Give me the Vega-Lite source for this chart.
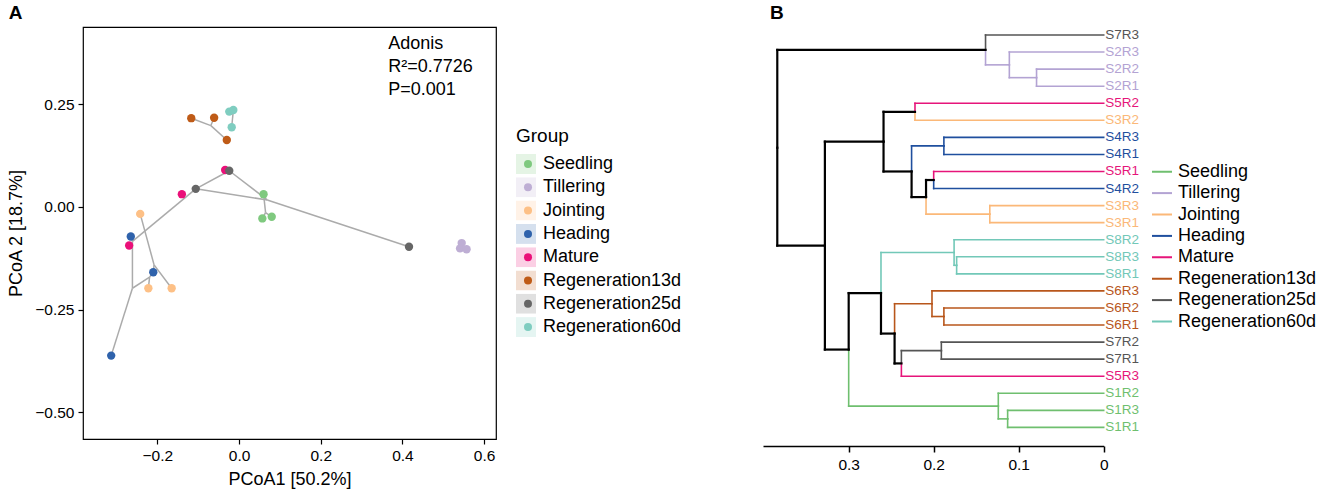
{
  "$schema": "https://vega.github.io/schema/vega-lite/v6.json",
  "padding": {"left": 7, "top": 3, "right": 5, "bottom": 5},
  "background": "white",
  "spacing": 80,
  "resolve": {"scale": {"color": "independent"}, "legend": {"color": "independent"}},
  "config": {
    "font": "Liberation Sans",
    "view": {"stroke": null},
    "axis": {"grid": false, "labelColor": "black", "titleColor": "black", "tickColor": "black", "domainColor": "black", "labelFont": "Liberation Sans", "titleFont": "Liberation Sans", "titleFontWeight": "normal"},
    "title": {"fontSize": 19, "fontWeight": "bold", "anchor": "start", "font": "Liberation Sans", "color": "black"},
    "legend": {"labelFont": "Liberation Sans", "titleFont": "Liberation Sans", "labelColor": "black", "titleColor": "black", "titleFontWeight": "normal"}
  },
  "datasets": {
    "points": [
      {"Group": "Seedling", "PC1": 0.060, "PC2": 0.031},
      {"Group": "Seedling", "PC1": 0.057, "PC2": -0.028},
      {"Group": "Seedling", "PC1": 0.080, "PC2": -0.024},
      {"Group": "Tillering", "PC1": 0.545, "PC2": -0.088},
      {"Group": "Tillering", "PC1": 0.541, "PC2": -0.101},
      {"Group": "Tillering", "PC1": 0.557, "PC2": -0.103},
      {"Group": "Jointing", "PC1": -0.242, "PC2": -0.017},
      {"Group": "Jointing", "PC1": -0.222, "PC2": -0.198},
      {"Group": "Jointing", "PC1": -0.165, "PC2": -0.198},
      {"Group": "Heading", "PC1": -0.265, "PC2": -0.072},
      {"Group": "Heading", "PC1": -0.210, "PC2": -0.159},
      {"Group": "Heading", "PC1": -0.313, "PC2": -0.362},
      {"Group": "Mature", "PC1": -0.034, "PC2": 0.090},
      {"Group": "Mature", "PC1": -0.140, "PC2": 0.031},
      {"Group": "Mature", "PC1": -0.269, "PC2": -0.094},
      {"Group": "Regeneration13d", "PC1": -0.117, "PC2": 0.216},
      {"Group": "Regeneration13d", "PC1": -0.061, "PC2": 0.217},
      {"Group": "Regeneration13d", "PC1": -0.030, "PC2": 0.163},
      {"Group": "Regeneration25d", "PC1": -0.024, "PC2": 0.088},
      {"Group": "Regeneration25d", "PC1": -0.106, "PC2": 0.044},
      {"Group": "Regeneration25d", "PC1": 0.416, "PC2": -0.097},
      {"Group": "Regeneration60d", "PC1": -0.024, "PC2": 0.232},
      {"Group": "Regeneration60d", "PC1": -0.014, "PC2": 0.236},
      {"Group": "Regeneration60d", "PC1": -0.018, "PC2": 0.194}
    ],
    "tree": [
      {"x1": -0.117, "y1": 0.216, "x2": -0.069, "y2": 0.198},
      {"x1": -0.061, "y1": 0.217, "x2": -0.069, "y2": 0.198},
      {"x1": -0.069, "y1": 0.198, "x2": -0.030, "y2": 0.163},
      {"x1": -0.014, "y1": 0.236, "x2": -0.018, "y2": 0.194},
      {"x1": -0.024, "y1": 0.088, "x2": -0.106, "y2": 0.044},
      {"x1": -0.106, "y1": 0.044, "x2": -0.261, "y2": -0.084},
      {"x1": -0.024, "y1": 0.088, "x2": 0.069, "y2": 0.017},
      {"x1": -0.106, "y1": 0.044, "x2": 0.069, "y2": 0.017},
      {"x1": 0.069, "y1": 0.017, "x2": 0.416, "y2": -0.097},
      {"x1": 0.060, "y1": 0.031, "x2": 0.065, "y2": -0.014},
      {"x1": 0.065, "y1": -0.014, "x2": 0.057, "y2": -0.028},
      {"x1": 0.065, "y1": -0.014, "x2": 0.080, "y2": -0.024},
      {"x1": -0.261, "y1": -0.084, "x2": -0.265, "y2": -0.072},
      {"x1": -0.261, "y1": -0.084, "x2": -0.261, "y2": -0.198},
      {"x1": -0.261, "y1": -0.198, "x2": -0.313, "y2": -0.362},
      {"x1": -0.261, "y1": -0.198, "x2": -0.219, "y2": -0.171},
      {"x1": -0.219, "y1": -0.171, "x2": -0.222, "y2": -0.198},
      {"x1": -0.219, "y1": -0.171, "x2": -0.210, "y2": -0.159},
      {"x1": -0.242, "y1": -0.017, "x2": -0.208, "y2": -0.141},
      {"x1": -0.208, "y1": -0.141, "x2": -0.165, "y2": -0.198},
      {"x1": -0.208, "y1": -0.141, "x2": -0.210, "y2": -0.159}
    ],
    "stats": [
      {"label": ["Adonis", "R²=0.7726", "P=0.001"]}
    ],
    "edges": [
      {"ph": 0.384, "py": 7.609, "ch": 0.139, "cy": 1.875, "g": "Mixed"},
      {"ph": 0.384, "py": 7.609, "ch": 0.328, "cy": 13.344, "g": "Mixed"},
      {"ph": 0.328, "py": 13.344, "ch": 0.259, "cy": 7.25, "g": "Mixed"},
      {"ph": 0.328, "py": 13.344, "ch": 0.300, "cy": 19.4375, "g": "Mixed"},
      {"ph": 0.139, "py": 1.875, "ch": 0, "cy": 1, "g": "Regeneration25d"},
      {"ph": 0.139, "py": 1.875, "ch": 0.111, "cy": 2.75, "g": "Tillering"},
      {"ph": 0.111, "py": 2.75, "ch": 0, "cy": 2, "g": "Tillering"},
      {"ph": 0.111, "py": 2.75, "ch": 0.079, "cy": 3.5, "g": "Tillering"},
      {"ph": 0.079, "py": 3.5, "ch": 0, "cy": 3, "g": "Tillering"},
      {"ph": 0.079, "py": 3.5, "ch": 0, "cy": 4, "g": "Tillering"},
      {"ph": 0.259, "py": 7.25, "ch": 0.222, "cy": 5.5, "g": "Mixed"},
      {"ph": 0.259, "py": 7.25, "ch": 0.226, "cy": 9, "g": "Mixed"},
      {"ph": 0.222, "py": 5.5, "ch": 0, "cy": 5, "g": "Mature"},
      {"ph": 0.222, "py": 5.5, "ch": 0, "cy": 6, "g": "Jointing"},
      {"ph": 0.226, "py": 9, "ch": 0.188, "cy": 7.5, "g": "Heading"},
      {"ph": 0.226, "py": 9, "ch": 0.209, "cy": 10.5, "g": "Mixed"},
      {"ph": 0.188, "py": 7.5, "ch": 0, "cy": 7, "g": "Heading"},
      {"ph": 0.188, "py": 7.5, "ch": 0, "cy": 8, "g": "Heading"},
      {"ph": 0.209, "py": 10.5, "ch": 0.200, "cy": 9.5, "g": "Mixed"},
      {"ph": 0.209, "py": 10.5, "ch": 0.134, "cy": 11.5, "g": "Jointing"},
      {"ph": 0.200, "py": 9.5, "ch": 0, "cy": 9, "g": "Mature"},
      {"ph": 0.200, "py": 9.5, "ch": 0, "cy": 10, "g": "Heading"},
      {"ph": 0.134, "py": 11.5, "ch": 0, "cy": 11, "g": "Jointing"},
      {"ph": 0.134, "py": 11.5, "ch": 0, "cy": 12, "g": "Jointing"},
      {"ph": 0.300, "py": 19.4375, "ch": 0.262, "cy": 16.125, "g": "Mixed"},
      {"ph": 0.300, "py": 19.4375, "ch": 0.124, "cy": 22.75, "g": "Seedling"},
      {"ph": 0.262, "py": 16.125, "ch": 0.176, "cy": 13.75, "g": "Regeneration60d"},
      {"ph": 0.262, "py": 16.125, "ch": 0.246, "cy": 18.5, "g": "Mixed"},
      {"ph": 0.176, "py": 13.75, "ch": 0, "cy": 13, "g": "Regeneration60d"},
      {"ph": 0.176, "py": 13.75, "ch": 0.173, "cy": 14.5, "g": "Regeneration60d"},
      {"ph": 0.173, "py": 14.5, "ch": 0, "cy": 14, "g": "Regeneration60d"},
      {"ph": 0.173, "py": 14.5, "ch": 0, "cy": 15, "g": "Regeneration60d"},
      {"ph": 0.246, "py": 18.5, "ch": 0.202, "cy": 16.75, "g": "Regeneration13d"},
      {"ph": 0.246, "py": 18.5, "ch": 0.238, "cy": 20.25, "g": "Mixed"},
      {"ph": 0.202, "py": 16.75, "ch": 0, "cy": 16, "g": "Regeneration13d"},
      {"ph": 0.202, "py": 16.75, "ch": 0.188, "cy": 17.5, "g": "Regeneration13d"},
      {"ph": 0.188, "py": 17.5, "ch": 0, "cy": 17, "g": "Regeneration13d"},
      {"ph": 0.188, "py": 17.5, "ch": 0, "cy": 18, "g": "Regeneration13d"},
      {"ph": 0.238, "py": 20.25, "ch": 0.191, "cy": 19.5, "g": "Regeneration25d"},
      {"ph": 0.238, "py": 20.25, "ch": 0, "cy": 21, "g": "Mature"},
      {"ph": 0.191, "py": 19.5, "ch": 0, "cy": 19, "g": "Regeneration25d"},
      {"ph": 0.191, "py": 19.5, "ch": 0, "cy": 20, "g": "Regeneration25d"},
      {"ph": 0.124, "py": 22.75, "ch": 0, "cy": 22, "g": "Seedling"},
      {"ph": 0.124, "py": 22.75, "ch": 0.113, "cy": 23.5, "g": "Seedling"},
      {"ph": 0.113, "py": 23.5, "ch": 0, "cy": 23, "g": "Seedling"},
      {"ph": 0.113, "py": 23.5, "ch": 0, "cy": 24, "g": "Seedling"}
    ],
    "leaves": [
      {"label": "S7R3", "pos": 1, "g": "Regeneration25d"},
      {"label": "S2R3", "pos": 2, "g": "Tillering"},
      {"label": "S2R2", "pos": 3, "g": "Tillering"},
      {"label": "S2R1", "pos": 4, "g": "Tillering"},
      {"label": "S5R2", "pos": 5, "g": "Mature"},
      {"label": "S3R2", "pos": 6, "g": "Jointing"},
      {"label": "S4R3", "pos": 7, "g": "Heading"},
      {"label": "S4R1", "pos": 8, "g": "Heading"},
      {"label": "S5R1", "pos": 9, "g": "Mature"},
      {"label": "S4R2", "pos": 10, "g": "Heading"},
      {"label": "S3R3", "pos": 11, "g": "Jointing"},
      {"label": "S3R1", "pos": 12, "g": "Jointing"},
      {"label": "S8R2", "pos": 13, "g": "Regeneration60d"},
      {"label": "S8R3", "pos": 14, "g": "Regeneration60d"},
      {"label": "S8R1", "pos": 15, "g": "Regeneration60d"},
      {"label": "S6R3", "pos": 16, "g": "Regeneration13d"},
      {"label": "S6R2", "pos": 17, "g": "Regeneration13d"},
      {"label": "S6R1", "pos": 18, "g": "Regeneration13d"},
      {"label": "S7R2", "pos": 19, "g": "Regeneration25d"},
      {"label": "S7R1", "pos": 20, "g": "Regeneration25d"},
      {"label": "S5R3", "pos": 21, "g": "Mature"},
      {"label": "S1R2", "pos": 22, "g": "Seedling"},
      {"label": "S1R3", "pos": 23, "g": "Seedling"},
      {"label": "S1R1", "pos": 24, "g": "Seedling"}
    ]
  },
  "hconcat": [
    {
      "width": 413,
      "height": 412,
      "title": {"text": "A", "dx": 1, "offset": 4},
      "view": {"stroke": "black", "strokeWidth": 1.2},
      "resolve": {"scale": {"color": "independent"}, "legend": {"color": "independent"}},
      "layer": [
        {
          "data": {"name": "points"},
          "mark": {"type": "point", "filled": true, "opacity": 0, "size": 1},
          "encoding": {
            "x": {"field": "PC1", "type": "quantitative", "scale": {"domain": [-0.382, 0.629], "nice": false, "zero": false},
              "axis": {"title": "PCoA1 [50.2%]", "values": [-0.2, 0, 0.2, 0.4, 0.6], "format": ".1f", "labelFontSize": 15.5, "titleFontSize": 18, "tickSize": 5, "tickWidth": 1.2, "labelPadding": 4, "titlePadding": 7, "domain": false, "labelFlush": false}},
            "y": {"field": "PC2", "type": "quantitative", "scale": {"domain": [-0.565, 0.438], "nice": false, "zero": false},
              "axis": {"title": "PCoA 2 [18.7%]", "values": [-0.5, -0.25, 0, 0.25], "format": ".2f", "labelFontSize": 15.5, "titleFontSize": 18, "tickSize": 5, "tickWidth": 1.2, "labelPadding": 4, "titlePadding": 9, "domain": false, "labelFlush": false}},
            "color": {"field": "Group", "type": "nominal",
              "scale": {"domain": ["Seedling", "Tillering", "Jointing", "Heading", "Mature", "Regeneration13d", "Regeneration25d", "Regeneration60d"],
                        "range": ["#7fc97f", "#beaed4", "#fdc086", "#2f62ab", "#ea1079", "#bf5b17", "#666666", "#7fcdc0"]},
              "legend": {"orient": "none", "legendX": 433, "legendY": 100, "title": "Group", "titleOpacity": 1, "titleFontSize": 19, "titlePadding": 8,
                "symbolType": "square", "symbolSize": 400, "symbolOpacity": 0.2, "symbolStrokeWidth": 0,
                "labelOpacity": 0, "labelFontSize": 18, "labelOffset": 6, "clipHeight": 20, "rowPadding": 3.3, "padding": 0}}
          }
        },
        {
          "data": {"name": "tree"},
          "mark": {"type": "rule", "color": "#ababab", "strokeWidth": 1.5},
          "encoding": {
            "x": {"field": "x1", "type": "quantitative"},
            "y": {"field": "y1", "type": "quantitative"},
            "x2": {"field": "x2"},
            "y2": {"field": "y2"}
          }
        },
        {
          "data": {"name": "points"},
          "mark": {"type": "circle", "size": 70, "opacity": 1},
          "encoding": {
            "x": {"field": "PC1", "type": "quantitative"},
            "y": {"field": "PC2", "type": "quantitative"},
            "color": {"field": "Group", "type": "nominal",
              "scale": {"domain": ["Seedling", "Tillering", "Jointing", "Heading", "Mature", "Regeneration13d", "Regeneration25d", "Regeneration60d"],
                        "range": ["#7fc97f", "#beaed4", "#fdc086", "#2f62ab", "#ea1079", "#bf5b17", "#666666", "#7fcdc0"]},
              "legend": {"orient": "none", "legendX": 436, "legendY": 100, "title": " ", "titleFontSize": 19, "titlePadding": 8,
                "symbolType": "circle", "symbolSize": 64, "symbolOpacity": 1, "symbolStrokeWidth": 0,
                "labelFontSize": 18, "labelOffset": 6, "clipHeight": 20, "rowPadding": 3.3, "padding": 0}}
          }
        },
        {
          "data": {"name": "stats"},
          "mark": {"type": "text", "align": "left", "baseline": "alphabetic", "fontSize": 18, "lineHeight": 23, "color": "black", "font": "Liberation Sans"},
          "encoding": {
            "x": {"datum": 0.365, "type": "quantitative"},
            "y": {"datum": 0.385, "type": "quantitative"},
            "text": {"field": "label"}
          }
        }
      ]
    },
    {
      "width": 340.7,
      "height": 419,
      "title": {"text": "B", "dx": 7, "offset": 4},
      "data": {"name": "edges"},
      "layer": [
        {
          "transform": [{"filter": "datum.g != 'Mixed'"}],
          "mark": {"type": "rule", "strokeWidth": 1.6, "strokeCap": "square"},
          "encoding": {
            "x": {"field": "ph", "type": "quantitative", "scale": {"domain": [0, 0.4008], "reverse": true, "nice": false, "zero": false},
              "axis": {"title": null, "values": [0, 0.1, 0.2, 0.3], "format": "~g", "labelFontSize": 15.5, "tickSize": 6, "tickWidth": 1.5, "domainWidth": 1.5, "labelPadding": 5, "labelFlush": false}},
            "y": {"field": "py", "type": "quantitative", "scale": {"domain": [0.531, 25.09], "reverse": true, "nice": false, "zero": false}, "axis": null},
            "y2": {"field": "cy"},
            "color": {"field": "g", "type": "nominal", "title": null,
              "scale": {"domain": ["Seedling", "Tillering", "Jointing", "Heading", "Mature", "Regeneration13d", "Regeneration25d", "Regeneration60d"],
                        "range": ["#6fbf6f", "#b3a3d3", "#fbb878", "#1f4f9e", "#e6157a", "#b8561b", "#555555", "#72c8b8"]},
              "legend": {"orient": "none", "legendX": 388, "legendY": 135.7, "title": null, "symbolType": "stroke", "symbolSize": 400, "symbolStrokeWidth": 2,
                "labelFontSize": 18, "labelOffset": 5, "clipHeight": 18, "rowPadding": 3.4, "padding": 0}}
          }
        },
        {
          "transform": [{"filter": "datum.g != 'Mixed'"}],
          "mark": {"type": "rule", "strokeWidth": 1.6, "strokeCap": "square"},
          "encoding": {
            "x": {"field": "ph", "type": "quantitative"},
            "x2": {"field": "ch"},
            "y": {"field": "cy", "type": "quantitative"},
            "color": {"field": "g", "type": "nominal", "title": null,
              "legend": {"orient": "none", "legendX": 388, "legendY": 135.7, "title": null, "symbolType": "stroke", "symbolSize": 400, "symbolStrokeWidth": 2,
                "labelFontSize": 18, "labelOffset": 5, "clipHeight": 18, "rowPadding": 3.4, "padding": 0}}
          }
        },
        {
          "transform": [{"filter": "datum.g == 'Mixed'"}],
          "mark": {"type": "rule", "strokeWidth": 2.2, "color": "black", "strokeCap": "square"},
          "encoding": {
            "x": {"field": "ph", "type": "quantitative"},
            "y": {"field": "py", "type": "quantitative"},
            "y2": {"field": "cy"}
          }
        },
        {
          "transform": [{"filter": "datum.g == 'Mixed'"}],
          "mark": {"type": "rule", "strokeWidth": 2.2, "color": "black", "strokeCap": "square"},
          "encoding": {
            "x": {"field": "ph", "type": "quantitative"},
            "x2": {"field": "ch"},
            "y": {"field": "cy", "type": "quantitative"}
          }
        },
        {
          "data": {"name": "leaves"},
          "mark": {"type": "text", "align": "left", "baseline": "middle", "fontSize": 13.5, "dx": 1.5, "font": "Liberation Sans"},
          "encoding": {
            "x": {"datum": 0, "type": "quantitative"},
            "y": {"field": "pos", "type": "quantitative"},
            "text": {"field": "label"},
            "color": {"field": "g", "type": "nominal", "legend": null}
          }
        }
      ]
    }
  ]
}
